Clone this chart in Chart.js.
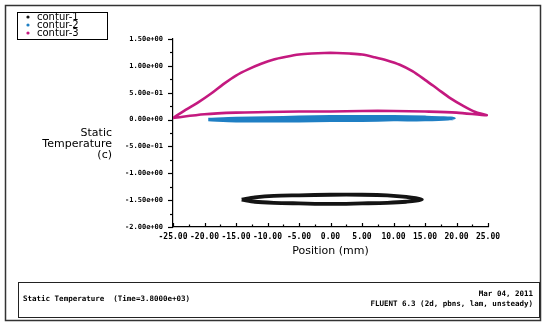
<!DOCTYPE html>
<html>
<head>
<meta charset="utf-8">
<script src="https://cdn.jsdelivr.net/npm/chart.js@4"></script>
<style>
  html, body { margin: 0; padding: 0; background: #fff; }
  #mycanvas { display: block; }
</style>
</head>
<body>
<canvas id="mycanvas" width="543" height="323"></canvas>
<script>
// contur-1 (black): closed loop, top side then bottom side
var c1_x = [-14.1, -12, -9, -5, 0, 5, 9, 12, 14.5, 12, 9, 5, 0, -5, -9, -12, -14.1];
var c1_y = [-1.49, -1.45, -1.42, -1.41, -1.40, -1.40, -1.41, -1.44, -1.49, -1.53, -1.55, -1.56, -1.57, -1.56, -1.55, -1.53, -1.49];

// contur-2 (blue)
var c2_x = [-19.4, -15, -10, -5, 0, 5, 10, 15, 19.6, 15, 10, 5, 0, -5, -10, -15, -19.4];
var c2_y = [0.0, 0.02, 0.03, 0.04, 0.05, 0.05, 0.05, 0.04, 0.02, 0.0, 0.0, -0.01, -0.01, -0.02, -0.02, -0.02, 0.0];

// contur-3 (magenta): upper curve left->right, then lower line right->left
var c3_x = [-25, -23, -21, -19, -17, -15, -13, -11, -9, -7, -5, -3, -1, 1, 3, 5, 7, 9, 11, 13, 15, 17, 19, 21, 23, 24.8,
            20, 15, 10, 5, 0, -5, -10, -15, -20, -25];
var c3_y = [0.03, 0.18, 0.32, 0.48, 0.66, 0.82, 0.94, 1.04, 1.12, 1.17, 1.21, 1.23, 1.24, 1.24, 1.23, 1.21, 1.16, 1.10, 1.02, 0.90, 0.74, 0.57, 0.40, 0.26, 0.14, 0.08,
            0.13, 0.15, 0.16, 0.16, 0.15, 0.15, 0.14, 0.13, 0.10, 0.03];

var seriesNames = ['contur-1', 'contur-2', 'contur-3'];
var seriesColors = ['#141414', '#1f7fc4', '#c4197f'];

var yTicks = [-2.0, -1.5, -1.0, -0.5, 0.0, 0.5, 1.0, 1.5];
var xTicks = [-25, -20, -15, -10, -5, 0, 5, 10, 15, 20, 25];

var yTitle = ['Static', 'Temperature', '(c)'];
var xTitle = 'Position (mm)';
var footerLeft = 'Static Temperature  (Time=3.8000e+03)';
var footerRight = ['Mar 04, 2011', 'FLUENT 6.3 (2d, pbns, lam, unsteady)'];

function toPoints(xs, ys) {
    var pts = [];
    for (var i in xs) {
        pts.push({ x: xs[i], y: ys[i] });
    }
    return pts;
}

function expLabel(v) {
    var s = Number(v).toExponential(2);
    return s.replace(/e([+-])(\d)$/, function (m, sign, d) { return 'e' + sign + '0' + d; });
}

var widths = [3.8, 3.6, 2.6];
var datasets = [];
var allX = [c1_x, c2_x, c3_x];
var allY = [c1_y, c2_y, c3_y];
for (var k = 0; k < 3; k++) {
    datasets.push({
        label: seriesNames[k],
        data: toPoints(allX[k], allY[k]),
        showLine: true,
        borderColor: seriesColors[k],
        backgroundColor: seriesColors[k],
        borderWidth: widths[k],
        pointRadius: 0,
        tension: 0.3,
        fill: false
    });
}

var monoFont = "'DejaVu Sans Mono', monospace";
var sansFont = "'DejaVu Sans', sans-serif";

// extra drawing: tick marks, horizontal y title, legend box, footer panel, frame
var decorations = {
    id: 'decorations',
    afterDraw: function (chart) {
        var ctx = chart.ctx;
        var xs = chart.scales.x;
        var ys = chart.scales.y;
        var area = chart.chartArea;
        ctx.save();
        ctx.strokeStyle = '#000';
        ctx.lineWidth = 1.2;

        // y ticks (outside, left)
        for (var v = -2.0; v <= 1.5001; v += 0.25) {
            var py = Math.round(ys.getPixelForValue(v)) + 0.5;
            var major = Math.abs(v * 2 - Math.round(v * 2)) < 1e-6;
            ctx.beginPath();
            ctx.moveTo(area.left, py);
            ctx.lineTo(area.left - (major ? 5 : 3), py);
            ctx.stroke();
        }
        // x ticks (upward)
        for (var u = -25; u <= 25.001; u += 2.5) {
            var px = Math.round(xs.getPixelForValue(u)) + 0.5;
            var maj = Math.abs(u / 5 - Math.round(u / 5)) < 1e-6;
            ctx.beginPath();
            ctx.moveTo(px, area.bottom);
            ctx.lineTo(px, area.bottom - (maj ? 4 : 2.5));
            ctx.stroke();
        }

        // y title, horizontal, right aligned
        ctx.fillStyle = '#000';
        ctx.font = '11px ' + sansFont;
        ctx.textAlign = 'right';
        ctx.textBaseline = 'middle';
        ctx.fillText(yTitle[0], 112, 133);
        ctx.fillText(yTitle[1], 112, 144);
        ctx.fillText(yTitle[2], 112, 155);

        // legend box
        ctx.lineWidth = 1;
        ctx.strokeRect(17.5, 12.5, 90, 27);
        ctx.font = '10px ' + sansFont;
        ctx.textAlign = 'left';
        for (var i = 0; i < chart.data.datasets.length; i++) {
            var ds = chart.data.datasets[i];
            var ly = 17 + i * 8;
            ctx.fillStyle = ds.borderColor;
            ctx.beginPath();
            ctx.arc(28, ly, 1.6, 0, Math.PI * 2);
            ctx.fill();
            ctx.fillStyle = '#000';
            ctx.fillText(ds.label, 37, ly);
        }

        // footer panel
        ctx.strokeStyle = '#222';
        ctx.lineWidth = 1;
        ctx.strokeRect(18.5, 282.5, 521, 35);
        ctx.fillStyle = '#000';
        ctx.font = 'bold 7.5px ' + monoFont;
        ctx.textAlign = 'left';
        ctx.fillText(footerLeft, 23, 299);
        ctx.textAlign = 'right';
        ctx.fillText(footerRight[0], 533, 294);
        ctx.fillText(footerRight[1], 533, 304);

        // outer frame
        ctx.strokeStyle = '#333';
        ctx.lineWidth = 1.5;
        ctx.strokeRect(5.5, 5.5, 535, 315);
        ctx.restore();
    }
};

var ctx = document.getElementById('mycanvas');
var chart = new Chart(ctx, {
    type: 'scatter',
    data: { datasets: datasets },
    options: {
        responsive: false,
        animation: false,
        layout: { padding: { left: 113, top: 39, right: 55, bottom: 61 } },
        plugins: {
            legend: { display: false },
            title: { display: false },
            tooltip: { enabled: false }
        },
        scales: {
            x: {
                type: 'linear',
                min: -25,
                max: 25,
                afterFit: function (s) { s.height = 35; },
                afterBuildTicks: function (s) { s.ticks = xTicks.map(function (v) { return { value: v }; }); },
                grid: { display: true, drawOnChartArea: false, drawTicks: false },
                border: { display: true, color: '#000', width: 1.2 },
                ticks: {
                    padding: 5,
                    color: '#000',
                    font: { family: monoFont, size: 8, weight: 'bold' },
                    maxRotation: 0,
                    autoSkip: false,
                    callback: function (v) { return Number(v).toFixed(2); }
                },
                title: {
                    display: true,
                    text: xTitle,
                    color: '#000',
                    font: { family: sansFont, size: 11 },
                    padding: { top: 0, bottom: 4 }
                }
            },
            y: {
                type: 'linear',
                min: -2,
                max: 1.5,
                afterFit: function (s) { s.width = 60; },
                afterBuildTicks: function (s) { s.ticks = yTicks.map(function (v) { return { value: v }; }); },
                grid: { display: true, drawOnChartArea: false, drawTicks: false },
                border: { display: true, color: '#000', width: 1.2 },
                ticks: {
                    padding: 10,
                    color: '#000',
                    font: { family: monoFont, size: 7, weight: 'bold' },
                    autoSkip: false,
                    callback: function (v) { return expLabel(v); }
                }
            }
        }
    },
    plugins: [decorations]
});
</script>
</body>
</html>
